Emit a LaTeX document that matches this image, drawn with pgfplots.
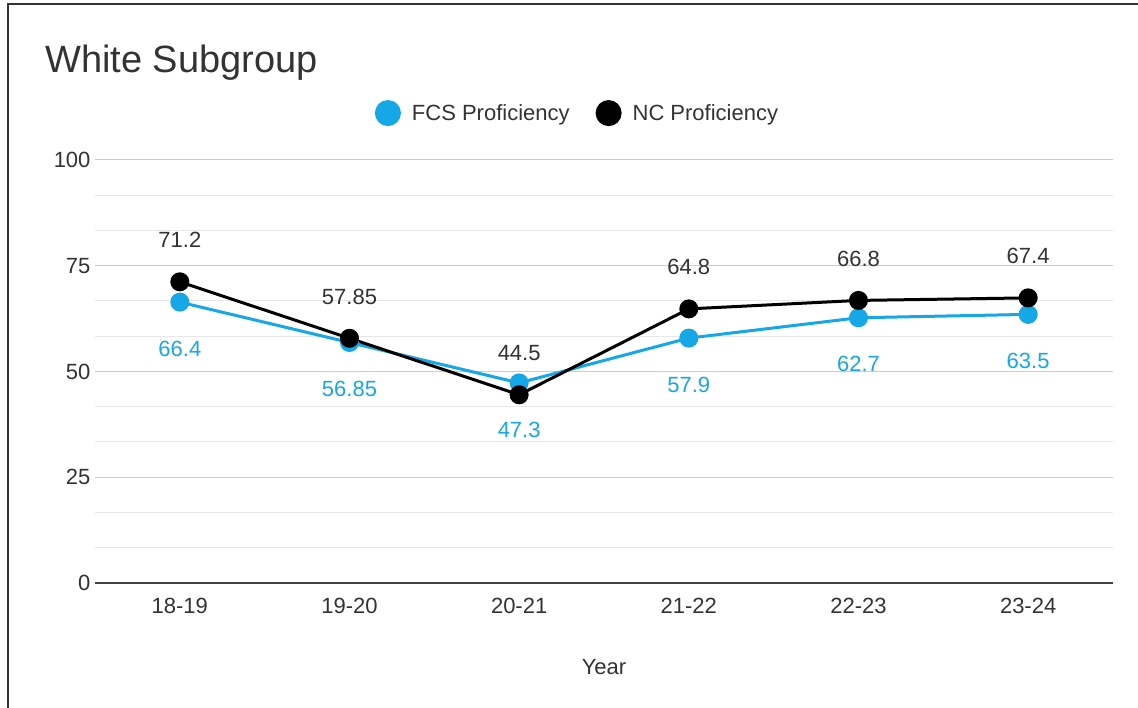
\documentclass[border=0pt]{standalone}
\usepackage{pgfplots}
\pgfplotsset{compat=1.18}
\usepackage{fontspec}
\setmainfont{Liberation Sans}
\definecolor{fcsblue}{RGB}{22,168,230}
\definecolor{txt}{RGB}{51,51,51}
\definecolor{majgrid}{RGB}{204,204,204}
\definecolor{mingrid}{RGB}{232,232,232}
\begin{document}
\begin{tikzpicture}
\useasboundingbox (0pt,0pt) rectangle (1138pt,708pt);
\fill[white] (0pt,0pt) rectangle (1138pt,708pt);
\draw[line width=2pt, black!80] (8pt,-5pt) -- (8pt,704pt) -- (1145pt,704pt);
\node[anchor=base west, font=\fontsize{38}{40}\selectfont, text=txt, inner sep=0pt] at (45pt,635pt) {White Subgroup};
\begin{axis}[
  at={(95pt,125pt)}, anchor=south west,
  scale only axis, width=1018pt, height=423pt,
  xmin=-0.5, xmax=5.5, ymin=0, ymax=100,
  xtick={0,1,2,3,4,5},
  xticklabels={18-19,19-20,20-21,21-22,22-23,23-24},
  ytick={0,25,50,75,100},
  minor ytick={8.333,16.667,33.333,41.667,58.333,66.667,83.333,91.667},
  ymajorgrids, yminorgrids,
  major grid style={majgrid, line width=1pt},
  minor grid style={mingrid, line width=1pt},
  axis x line*=bottom, axis y line*=left,
  y axis line style={draw=none},
  x axis line style={line width=2pt, black!75, -},
  major tick length=0pt, minor tick length=0pt,
  tick style={draw=none},
  ticklabel style={font=\fontsize{22}{24}\selectfont, text=txt},
  yticklabel style={xshift=-1pt},
  xticklabel style={yshift=-12pt},
  /pgf/number format/assume math mode=true,
  xlabel={Year},
  xlabel style={font=\fontsize{22}{24}\selectfont, text=txt, yshift=-38pt},
  clip=false,
  legend columns=2,
  legend style={at={(0.474,1.075)}, anchor=south, draw=none, fill=none,
    font=\fontsize{22}{24}\selectfont, text=txt,
    /tikz/every odd column/.append style={column sep=9pt},
    /tikz/every even column/.append style={column sep=24pt}},
  legend image code/.code={\fill[#1] (0pt,0pt) circle (11.5pt);},
  nodes near coords, point meta=explicit symbolic,
  every node near coord/.append style={font=\fontsize{22}{24}\selectfont},
]
\addplot[color=fcsblue, line width=3pt, mark=*, mark size=8pt,
  mark options={fill=fcsblue, draw=fcsblue},
  every node near coord/.append style={anchor=north, yshift=-34pt, text=fcsblue}]
  table[meta=lab] {
x y lab
0 66.4 66.4
1 56.85 56.85
2 47.3 47.3
3 57.9 57.9
4 62.7 62.7
5 63.5 63.5
};
\addlegendentry{FCS Proficiency}
\addplot[color=black, line width=3pt, mark=*, mark size=8pt,
  mark options={fill=black, draw=black},
  every node near coord/.append style={anchor=south, yshift=29pt, text=txt}]
  table[meta=lab] {
x y lab
0 71.2 71.2
1 57.85 57.85
2 44.5 44.5
3 64.8 64.8
4 66.8 66.8
5 67.4 67.4
};
\addlegendentry{NC Proficiency}
\end{axis}
\end{tikzpicture}
\end{document}
